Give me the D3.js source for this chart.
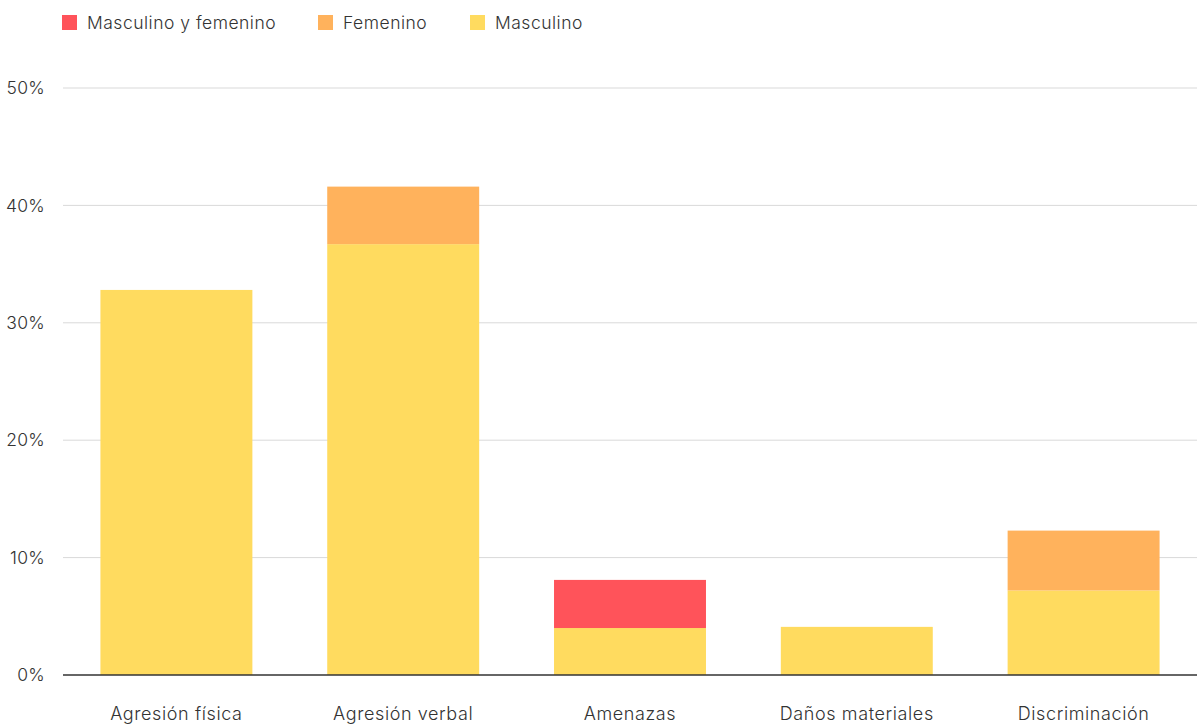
<!DOCTYPE html>
<html><head><meta charset="utf-8">
<script src="https://cdn.jsdelivr.net/npm/d3@7"></script>
<style>
html,body{margin:0;padding:0;background:#fff;}
svg{display:block;font-family:Inter, "Noto Sans", sans-serif;font-weight:300;}
</style></head>
<body><svg id="c" width="1199" height="724"></svg>
<script>
const categories = ["Agresión física","Agresión verbal","Amenazas","Daños materiales","Discriminación"];
const masculino = [32.8, 36.7, 4.0, 4.1, 7.2];
const femenino = [0, 4.9, 0, 0, 5.1];
const masculinoYFemenino = [0, 0, 4.1, 0, 0];
const yTicks = [0,10,20,30,40,50];
const seriesNames = ["Masculino","Femenino","Masculino y femenino"];
const legendOrder = ["Masculino y femenino","Femenino","Masculino"];
const colors = {"Masculino":"#ffdb5f","Femenino":"#ffb25c","Masculino y femenino":"#ff535a"};

const rows = categories.map((c,i)=>({cat:c,"Masculino":masculino[i],"Femenino":femenino[i],"Masculino y femenino":masculinoYFemenino[i]}));
const svg = d3.select("#c");
const x = d3.scaleBand().domain(categories).range([63,1197]).paddingInner(0.33).paddingOuter(0.165);
const y = d3.scaleLinear().domain([0,50]).range([675,88]);

svg.append("g").selectAll("line").data(yTicks.filter(t=>t>0)).join("line")
  .attr("x1",63).attr("x2",1197).attr("y1",d=>y(d)).attr("y2",d=>y(d))
  .attr("stroke","#d9d9d9").attr("stroke-width",1);

svg.append("g").selectAll("text").data(yTicks).join("text")
  .attr("x",45).attr("y",d=>y(d)).attr("dy","0.35em").attr("text-anchor","end")
  .attr("font-size",17.5).attr("letter-spacing",0.3).attr("fill","#333").text(d=>d+"%");

const stack = d3.stack().keys(seriesNames)(rows);
svg.append("g").selectAll("g").data(stack).join("g").attr("fill",d=>colors[d.key])
  .selectAll("rect").data(d=>d).join("rect")
  .attr("x",d=>x(d.data.cat)).attr("width",x.bandwidth())
  .attr("y",d=>y(d[1])).attr("height",d=>y(d[0])-y(d[1]));

svg.append("line").attr("x1",63).attr("x2",1197).attr("y1",675).attr("y2",675)
  .attr("stroke","#333").attr("stroke-width",1.5);

svg.append("g").selectAll("text").data(categories).join("text")
  .attr("x",d=>x(d)+x.bandwidth()/2).attr("y",720).attr("text-anchor","middle")
  .attr("font-size",18).attr("letter-spacing",0.6).attr("fill","#333").text(d=>d);

const lx = [62, 318, 470];
const lg = svg.append("g").selectAll("g").data(legendOrder).join("g")
  .attr("transform",(d,i)=>`translate(${lx[i]},15)`);
lg.append("rect").attr("width",15).attr("height",15).attr("fill",d=>colors[d]);
lg.append("text").attr("x",25).attr("y",8).attr("dy","0.35em").attr("font-size",17.5)
  .attr("letter-spacing",0.5).attr("fill","#333").text(d=>d);
</script></body></html>
